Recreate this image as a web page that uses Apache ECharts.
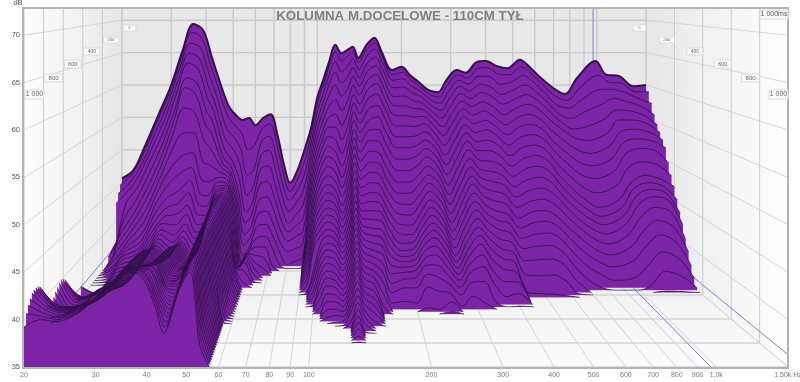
<!DOCTYPE html>
<html><head><meta charset="utf-8">
<style>html,body{margin:0;padding:0;background:#fff}#c{width:800px;height:382px}</style>
<script src="https://cdn.jsdelivr.net/npm/echarts@6/dist/echarts.min.js"></script>
</head><body><div id="c"></div>
<script>
const titleText = 'KOLUMNA M.DOCELOWE - 110CM TYŁ';
const xTicks = [20,30,40,50,60,70,80,90,100,200,300,400,500,600,700,800,900,1000,1500];
const xTickLabels = ['20','30','40','50','60','70','80','90','100','200','300','400','500','600','700','800','900','1,0k','1,50k Hz'];
const dbTicks = [35,40,45,50,55,60,65,70];
const timeTicks = [0,200,400,600,800,1000];
const timeTickLabels = ['0','200','400','600','800','1 000'];
const sliceStepMs = 20, sliceCount = 51;
const cursorHz = 970, cursorDb = 36.3;
const freqs = [20,22,24,27,30,33,36,39,42,44,48,51,54,57,60,64,68,72,76,80,85,90,95,100,105,110,116,122,128,134,140,150,160,170,185,200,215,230,250,270,290,315,340,370,400,440,480,530,580,630,700,770,850,990,1080,1200,1350,1500];
// dB per slice (index 0 = 0 ms, each next = +20 ms); a list stops where the level is below the 35 dB floor
const db20=[45.6,44.8,43.8,42.6,34,34,36.2,36,33,33,33,33,33,33,33,33,33,33,33,33,36,36.4,34,35,35.7,36.5,37.3,38.2,38.9,39.5,39.8,40,39.9,39.6,39.3,38.9,36.2,37,38.7,39.6,40.4,41.3,41.8,42,42.1,42.1,42,41.6,41.1,40.4,39.2];
const db22=[46.9,46.5,45.5,44.5,43,41,39.5,38.5,37.5,36.8,36.5,36,35.8,35.5,35.3,35.2,35.1,35,35,35,35.2,35.5,35.5,36,36,36,36.5,36.8,37,37.2,37.3,37.3,37.2,37,37,37,37.2,37.5,38,38.5,39,39.5,39.8,40,40.2,40.3,40.3,40.3,40.2,40.1,40];
const db24=[50.3,49.3,48,46.8,45.2,43.5,42,40.8,39.8,39,38.4,38,37.7,37.4,37.1,36.9,36.7,36.5,36.4,36.4,36.5,36.6,36.7,36.9,37,37.2,37.4,37.5,37.6,37.8,37.9,38,38,38,38.1,38.2,38.3,38.5,38.7,38.9,39.1,39.3,39.5,39.6,39.7,39.8,39.8,39.8,39.8,39.8,39.8];
const db27=[55.4,54.4,53,51.5,49.8,48,46.2,44.6,43,41.6,40.3,39.4,38.8,38.4,38,37.6,37.3,37,36.8,36.7,36.7,36.8,36.9,37,37.2,37.4,37.6,37.8,38,38.2,38.4,38.5,38.6,38.7,38.8,38.9,39,39.1,39.3,39.4,39.6,39.8,40,40.1,40.2,40.3,40.4,40.5,40.5,40.6,40.6];
const db30=[60,59,57.6,56,54.2,52.4,50.6,49,47.4,46,44.6,43.3,42.2,41.3,40.6,40,39.5,39.2,39,38.9,38.9,39,39.1,39.3,39.5,39.7,39.9,40.1,40.3,40.4,40.6,40.7,40.8,40.9,41,41.1,41.2,41.3,41.4,41.5,41.6,41.7,41.8,41.9,42,42,42.1,42.1,42.2,42.2,42.3];
const db33=[65.4,64.3,62.9,61.3,59.6,57.5,55.8,53.8,51.5,49.2,47.3,45.6,44.4,43.5,42.8,42.2,41.8,41.5,41.3,41.2,41.3,41.4,41.6,41.8,42,42.2,42.4,42.6,42.7,42.8,42.9,43,43,43.1,43.1,43.2,43.2,43.3,43.3,43.4,43.4,43.5,43.5,43.5,43.6,43.6,43.6,43.7,43.7,43.7,43.7];
const db36=[69.4,68.2,66.6,65.2,63.8,61.7,60.4,57.6,54.1,51,48.8,46.6,45,43.8,42.6,41.5,40.8,40.3,40,39.9,39.9,40,40.1,40.3,40.4,40.6,40.8,41,41.2,41.3,41.5,41.8,42,42.2,42.4,42.6,42.8,43,43.2,43.4,43.6,43.9,44,44.2,44.3,44.4,44.6,44.7,44.8,44.9,45];
const db39=[68.5,67.3,65.9,64.4,62.9,61,59.4,57,54.2,51.5,49.6,48,46.5,45,44,43,42.3,41.8,41.5,41.5,41.6,41.8,42,42.2,42.4,42.6,42.8,43,43.1,43.2,43.3,43.4,43.5,43.5,43.6,43.7,43.7,43.8,43.9,44,44,44.1,44.1,44.2,44.2,44.3,44.3,44.3,44.4,44.4,44.4];
const db42=[64.2,63,61.5,60,58.5,56.8,55,52.8,50,47.6,45.8,44.5,43.4,42.4,41.6,41,40.5,40,39.8,39.8,39.8,39.9,40,40.1,40.2,40.4,40.5,40.6,40.7,40.8,40.9,41,41,41,41.1,41.1,41.1,41.2,41.2,41.2,41.2,41.3,41.3,41.3,41.3,41.3,41.3,41.3,41.3,41.3,41.3];
const db44=[61.5,60.5,59.2,58,56.8,55.4,53.8,51.8,49.6,47.4,45.6,44.4,43.4,42.6,42,41.4,40.9,40.5,40.2,40.2,40.3,40.4,40.5,40.6,40.7,40.8,40.9,41,41.1,41.2,41.2,41.3,41.3,41.3,41.3,41.3,41.3,41.3,41.2,41.2,41,40.8,40.6,40.4,40.2,40,39.8,39.6,39.3,39,38.6];
const db48=[56.9,55.5,53.8,52.3,51,50,49.4,49,48.5,48,47.6,47.2,46.9,46.7,46.5,46.3,46.2,46.1,46,46,45.9,45.8,45.7,45.6,45.5,45.5,45.4,45.4,45.3,45.2,45.2,45.1,45,45,44.9,44.8,44.7,44.6,44.5,44.4,44.3,44.2,44.1,44,43.9,43.8,43.7,43.6,43.5,43.3,43.1];
const db51=[55.4,54,52.4,50.8,49.4,48.6,48.2,48,47.8,47.6,47.4,47.3,47.2,47.1,47,47,47,47,47,47,47,47,47,47,46.9,46.9,46.8,46.8,46.7,46.7,46.6,46.6,46.5,46.5,46.4,46.4,46.3,46.3,46.2,46.2,46.1,46.1,46,46,45.9,45.8,45.7,45.6,45.4,45.2,45];
const db54=[54.6,52.8,50.5,48.5,46.5,45.2,44.6,44.3,44.1,44,43.9,43.8,43.7,43.6,43.5,43.4,43.3,43.2,43.1,43,42.9,42.8,42.7,42.6,42.4,42.2,42.1,42,41.8,41.6,41.4,41.2,41,40.8,40.6,40.5,40.3,40.2,40,39.8,39.6,39.4,39.2,39,38.8,38.6,38.4,38.2,38,37.7,37.3];
const db57=[54.9,50.2,46.6,43.9,41.6,40.3,38.9,37.7,36.6,35.7,36,36,36.2,36.5,36.8,37,37.2,37.4,37.5,37.5,37.4,37.3,37.2,37,36.8,36.6,36.4,36.2,36,35.8,35.6,35.4,35.2,33.5];
const db60=[53.8,51,47.5,45,43,41.5,40,38.8,37.8,37.5,37.6,37.8,38,38,38,37.8,37,35.8,33.5];
const db64=[54.9,53.5,51.8,50,48,46,44,42.3,40.8,39.4,38.4,37.5,36.8,36.3,35.8,35.3,33.5];
const db68=[55.5,54.2,52.5,50.6,48.5,46.4,44.4,42.6,41,39.6,38.4,37.2,36,33.5];
const db72=[52.3,51,49.3,47.5,45.6,43.8,42.2,40.6,39.2,37.8,35.8,33.5];
const db76=[47.7,46.5,45,43.5,42,40.6,39.3,38,36.8,35.5,33.5];
const db80=[44.9,43.9,42.8,41.4,40,39,38,36.8,35.3,33.5];
const db85=[46.9,45.6,44.2,42.8,41.3,39.9,38.6,37.2,35.7,33.5];
const db90=[50,48.3,46.5,44.7,42.8,41,39.4,37.8,36.2,35.2,33.5];
const db95=[53.4,52.3,51,49.8,48.5,47.2,46,45,44,43,42,41.2,40.4,39.7,39,38.4,37.8,37.2,36.6,36,35.3,33.5];
const db100=[58.1,57.2,56,54.8,53.6,52.4,51.2,50.2,49.2,48.2,47.2,46.3,45.5,44.7,44,43.3,42.7,42.1,41.5,41,38.5,37.8,37.2,36.5,36,35.3,33.5];
const db105=[60.8,60,58.9,57.7,56.5,55.2,54,53,52,51,50,49,48,47.1,46.2,45.4,44.6,43.9,43.2,42.5,41.8,41.1,40.4,39.7,39,38.3,37.5,36.7,35.8,33.5];
const db110=[63.5,62.8,61.6,60.3,58.9,57.4,56,54.8,53.6,52.4,51.2,50,48.9,47.9,47,46.2,45.4,44.7,44,43.3,42.7,42,41.4,40.8,40.2,39.5,38.9,38.2,37.5,36.8,36.1,35.4,33.5];
const db116=[66.2,65.2,63.8,62.3,60.5,58.5,56.5,54.8,53.2,51.7,50.4,49.2,48.2,47.2,46.4,45.6,44.9,44.2,43.5,42.8,42.2,41.6,41,40.4,39.8,39.2,38.6,38,37.4,36.8,36.2,35.7,35.2,33.5];
const db122=[64.9,63.8,62.3,60.7,58.9,56.9,54.9,53,51.2,49.6,48.2,47,46,45,44.2,43.5,42.8,42.2,41.6,41,40.5,40,39.5,39,38.5,38,37.5,37,36.6,36.2,35.9,35.6,35.3,35.1,33.5];
const db128=[65.4,64.5,63.1,61.6,60,58.4,56.8,55.2,53.7,52.3,51,49.8,48.7,47.7,46.8,46,45.2,44.5,43.8,43.2,42.6,42,41.5,41,40.5,40,39.5,39,38.6,38.2,37.8,37.4,37,36.6,35.8,33.5];
const db134=[65.9,65.2,64.2,63,61.8,60.6,59.4,58.3,57.2,56.1,55,54,53,52,51.1,50.2,49.3,48.5,47.7,47,46.3,45.6,45,44.4,43.8,43.2,42.6,42,41.5,41,40.4,39.8,39.2,38.6,38,37.5,37,36.5,36,35.5,35.1,33.5];
const db140=[64.2,63.6,62.6,61.5,60.4,59.2,58,56.8,55.6,54.4,53.2,52,50.9,49.8,48.8,47.9,47,46.2,45.5,44.8,44.1,43.5,42.9,42.3,41.7,41.1,40.5,40,39.4,38.8,38.3,37.8,37.3,36.8,36.3,35.8,35.2,33.5];
const db150=[66.2,65.6,64.7,63.7,62.6,61.4,60.2,59,57.6,56.2,54.9,53.6,52.3,51,49.8,48.6,47.5,46.5,45.5,44.6,43.7,43,42.3,41.6,41,40.4,39.8,39.2,38.6,38,37.4,36.8,36.2,35.5,33.5];
const db160=[67.3,66.6,65.7,64.6,63.4,62.2,61,59.6,58.1,56.6,55,53.5,52.1,50.8,49.5,48.3,47.2,46.2,45.3,44.4,43.5,42.7,41.9,41.1,40.2,39.3,38.3,37.1,35.8,33.5];
const db170=[65.1,64.5,63.6,62.6,61.5,60.3,59,57.6,56.2,54.6,53,51.5,50,48.6,47.3,46.1,45,44,43.1,42.2,41.3,40.4,39.5,38.6,37.7,36.8,35.8,33.5];
const db185=[62.3,61.7,61,60,58.8,57.6,56.3,55,53.6,52.2,50.8,49.4,48,46.7,45.5,44.3,43.2,42.2,41.2,40.5,40,39.6,39.2,38.8,38.2,37.4,36,33.5];
const db200=[62.8,62.1,61.2,60.1,58.9,57.6,56.3,55,53.6,52.2,50.8,49.4,48,46.7,45.4,44.2,43.1,42.1,41.3,40.7,40.2,39.8,39.4,39,38.4,37.4,35.8,33.5];
const db215=[61.5,60.9,60.1,59.2,58.2,57.2,56.1,54.9,53.7,52.5,51.3,50.1,49,47.9,46.8,45.8,44.9,44.1,43.4,42.8,42.3,41.8,41.3,40.7,40,39.1,37.8,35.5,33.5];
const db230=[60.5,60,59.4,58.7,57.9,57.1,56.2,55.3,54.3,53.3,52.3,51.3,50.2,49.2,48.3,47.4,46.5,45.7,44.9,44.1,43.4,42.7,41.9,41,40,38.8,37.3,35.3,33.5];
const db250=[59.2,58.7,58.1,57.4,56.6,55.8,54.9,54,53,52,51,50,49,48,47,46,45.1,44.2,43.4,42.6,41.8,41,40.2,39.4,38.6,37.8,37,36.2,35.3,33.5];
const db270=[58.9,58.3,57.5,56.6,55.6,54.5,53.4,52.2,51,49.8,48.6,47.4,46.3,45.2,44.2,43.2,42.3,41.4,40.6,39.9,39.3,38.8,38.3,37.8,37.2,36.5,35.4,33.5];
const db290=[60.8,60.1,59.3,58.4,57.4,56.4,55.3,54.2,53.1,52,50.9,49.8,48.7,47.7,46.7,45.8,44.9,44.1,43.3,42.5,41.8,41.1,40.5,39.8,39.1,38.1,36.6,33.5];
const db315=[62.3,61.7,61,60.2,59.3,58.3,57.3,56.3,55.3,54.3,53.3,52.3,51.3,50.3,49.3,48.4,47.4,46.5,45.6,44.7,43.8,43,42.1,41,39.8,38.2,35.8,33.5];
const db340=[61.9,61.2,60.4,59.5,58.5,57.5,56.4,55.3,54.2,53.1,52,50.9,49.8,48.8,47.8,46.8,45.9,45,44.1,43.2,42.3,41.3,40.2,39,37.6,35.7,33.5];
const db370=[63.5,62.6,61.6,60.5,59.4,58.2,57,55.8,54.6,53.3,52,50.7,49.5,48.3,47.2,46.1,45,44,43,42,41,40,38.9,37.6,36,33.5];
const db400=[63.7,62.8,61.6,60.2,58.9,57.5,56.2,55,53.8,52.6,51.4,50.2,49,47.9,46.8,45.7,44.6,43.6,42.6,41.6,40.6,39.6,38.6,37.6,36.4,35.1,33.5];
const db440=[62.9,61.8,60.4,59,57.7,56.3,55,53.7,52.4,51.1,49.8,48.6,47.4,46.2,45,43.8,42.7,41.6,40.5,39.2,37.6,35.6,33.5];
const db480=[62.6,61.7,60.7,59.6,58.4,57.2,56,54.8,53.5,52.2,50.9,49.6,48.3,47,45.8,44.6,43.4,42.1,40.8,39.3,37.5,35.5,33.5];
const db530=[63.9,62.9,61.7,60.4,59.1,57.8,56.5,55.2,53.9,52.6,51.3,50,48.7,47.4,46.1,44.8,43.6,42.3,40.9,39.4,37.6,35.4,33.5];
const db580=[62.6,61.7,60.6,59.4,58.2,57,55.7,54.4,53.1,51.8,50.5,49.2,47.9,46.6,45.3,44,42.8,41.5,40.1,38.6,36.8,35.2,33.5];
const db630=[61.1,60.2,59.1,58,56.8,55.5,54.1,52.7,51.3,49.9,48.5,47.3,46.1,45,43.8,42.5,41.2,39.8,38.2,36.6,35.2,33.5];
const db700=[59.5,58.4,57.2,56,55,54,52.5,51,49.5,48,46.5,45.3,44.2,43.1,42,40.8,39.4,37.9,36.3,33.5];
const db770=[58.6,57.8,56.8,55.4,54,52.8,51.3,49.7,48.1,46.5,45,43.9,42.9,41.8,40.7,39.5,38.2,36.8,35.3,33.5];
const db850=[61.1,59.6,58,56.3,54.3,52.5,50.8,49.2,47.6,45.8,44,43,42.1,41.1,40,38.8,37.5,36,33.5];
const db990=[63.7,61.6,59.6,57.6,55.5,53.6,51.9,50.3,48.7,46.9,45.1,44.2,43.4,42.5,41.3,39.9,38.3,36.4,33.5];
const db1080=[61.6,60.6,59.6,58.4,56.8,55.5,54,52.6,51.2,49.4,47.5,46.8,46,45.1,43.7,42,40.2,38,35.6,33.5];
const db1200=[61.4,60.4,59.2,57.9,56.7,55.5,54.3,53.1,51.9,50.2,48.5,47.7,47,46.2,45,43.5,41.8,39.8,37.5,35.2,33.5];
const db1350=[59.8,59.1,58.2,57.2,56,55,53.9,52.8,51.6,49.8,48,47.2,46.5,45.7,44.3,42.5,40.7,38.8,36.8,35.1,33.5];
const db1500=[60,59.1,57.5,55.9,54.6,53.6,52.7,51.8,49.8,48.2,46.9,45.3,43.7,42.3,40.5,39.2,37.6,36.3,35.3,33.5];

const columns=[db20,db22,db24,db27,db30,db33,db36,db39,db42,db44,db48,db51,db54,db57,db60,db64,db68,db72,db76,db80,db85,db90,db95,db100,db105,db110,db116,db122,db128,db134,db140,db150,db160,db170,db185,db200,db215,db230,db250,db270,db290,db315,db340,db370,db400,db440,db480,db530,db580,db630,db700,db770,db850,db990,db1080,db1200,db1350,db1500];

const dbMin = 35, dbMax = 73, hzMin = 20, hzMax = 1500, msMax = 1000;
const purple = '#7b25a6', contour = '#33124a';
const plot = {top: 9, back: {l: 122, r: 646, floor: 247, pxDb: 6.48}, front: {l: 24, r: 788, floor: 367, pxDb: 9.48}};
const mix = (a, b, t) => a + (b - a) * t / msMax;
const pl = t => mix(plot.back.l, plot.front.l, t);
const pr = t => mix(plot.back.r, plot.front.r, t);
const pf = t => mix(plot.back.floor, plot.front.floor, t);
const ps = t => mix(plot.back.pxDb, plot.front.pxDb, t);
const hzPos = (f, t) => pl(t) + (pr(t) - pl(t)) * Math.log10(f / hzMin) / Math.log10(hzMax / hzMin);
const dbPos = (d, t) => pf(t) - (d - dbMin) * ps(t);

const grids = [], xAxes = [], yAxes = [], series = [];
function addPlane(t) {
  const h = (dbMax - dbMin) * ps(t);
  grids.push({left: pl(t), width: pr(t) - pl(t), top: pf(t) - h, height: h});
  const i = grids.length - 1;
  xAxes.push({gridIndex: i, type: 'log', min: hzMin, max: hzMax, show: false});
  yAxes.push({gridIndex: i, type: 'value', min: dbMin, max: dbMax, show: false});
  return i;
}
// A slice is only drawn where it stands above the floor: the point next to a visible one lands on the floor, the rest stay empty.
function sliceData(s) {
  const level = columns.map(col => col[s]);
  const above = c => level[c] !== undefined && level[c] > dbMin;
  return freqs.map((f, c) => {
    if (above(c)) return [f, level[c]];
    if ((c > 0 && above(c - 1)) || (c < freqs.length - 1 && above(c + 1))) return [f, dbMin];
    return [f, null];
  });
}
for (let s = 0; s < sliceCount; s++) {
  const t = s * sliceStepMs, i = addPlane(t);
  series.push({
    type: 'line', xAxisIndex: i, yAxisIndex: i, silent: true, animation: false, symbol: 'none',
    smooth: 0.35, clip: true, z: 3, connectNulls: false,
    lineStyle: {color: contour, width: s === 0 ? 2 : 0.85},
    areaStyle: {color: purple, opacity: 1, origin: 'start'},
    data: sliceData(s)
  });
}
// axes labels sit on the front plane
const fi = addPlane(msMax);
yAxes[fi] = {gridIndex: fi, type: 'value', min: dbMin, max: dbMax, interval: 5, show: true, splitLine: {show: false},
  axisLine: {show: false}, axisTick: {show: false},
  axisLabel: {color: '#555', fontSize: 7.5, margin: 4, fontFamily: 'Liberation Sans', showMaxLabel: false}};
series.push({type: 'scatter', xAxisIndex: fi, yAxisIndex: fi, silent: true, animation: false, symbolSize: 0, clip: false, z: 6,
  data: xTicks.map((f, k) => ({value: [f, dbMin], label: {show: true, position: 'bottom', distance: 5, formatter: xTickLabels[k],
    color: '#555', fontSize: 7, fontFamily: 'Liberation Sans'}}))});

const g = [];
const poly = (pts, fill) => g.push({type: 'polygon', silent: true, z: 0, shape: {points: pts}, style: {fill}});
const seg = (x1, y1, x2, y2, c, w) => g.push({type: 'line', silent: true, z: 1, shape: {x1, y1, x2, y2}, style: {stroke: c, lineWidth: w || 1}});
const LG = (x, y, x2, y2, a, b) => new echarts.graphic.LinearGradient(x, y, x2, y2, [{offset: 0, color: a}, {offset: 1, color: b}]);
const T = plot.top;
poly([[plot.front.l, T], [plot.back.l, T], [plot.back.l, plot.back.floor], [plot.front.l, plot.front.floor]], LG(0, 0, 1, 0, '#ffffff', '#e6e6e6'));
poly([[plot.back.r, T], [plot.front.r, T], [plot.front.r, plot.front.floor], [plot.back.r, plot.back.floor]], LG(0, 0, 1, 0, '#e6e6e6', '#ffffff'));
poly([[plot.back.l, T], [plot.back.r, T], [plot.back.r, plot.back.floor], [plot.back.l, plot.back.floor]], '#e8e8e8');
poly([[plot.back.l, plot.back.floor], [plot.back.r, plot.back.floor], [plot.front.r, plot.front.floor], [plot.front.l, plot.front.floor]], LG(0, 0, 0, 1, '#ececec', '#fcfcfc'));
const gridC = '#cacaca';
xTicks.forEach(f => {
  seg(hzPos(f, 0), T, hzPos(f, 0), pf(0), gridC, 1.4);
  seg(hzPos(f, 0), pf(0), hzPos(f, msMax), pf(msMax), '#d4d4d4', 1);
});
dbTicks.forEach(d => {
  seg(pl(0), dbPos(d, 0), pr(0), dbPos(d, 0), gridC, 1.4);
  seg(pl(0), dbPos(d, 0), pl(msMax), dbPos(d, msMax), '#d6d6d6', 1);
  seg(pr(0), dbPos(d, 0), pr(msMax), dbPos(d, msMax), '#d6d6d6', 1);
});
timeTicks.forEach(t => {
  seg(pl(t), T, pl(t), pf(t), gridC, 1);
  seg(pr(t), T, pr(t), pf(t), gridC, 1);
  seg(pl(t), pf(t), pr(t), pf(t), '#d4d4d4', 1.4);
});
// cursor
const blue = '#7486c6';
seg(hzPos(cursorHz, 0), T, hzPos(cursorHz, 0), pf(0), blue, 1);
seg(hzPos(cursorHz, 0), pf(0), hzPos(cursorHz, msMax), pf(msMax), blue, 1);
seg(pl(0), dbPos(cursorDb, 0), pl(msMax), dbPos(cursorDb, msMax), blue, 1);
seg(pr(0), dbPos(cursorDb, 0), pr(msMax), dbPos(cursorDb, msMax), blue, 1);
// frame
g.push({type: 'rect', silent: true, z: 2, shape: {x: plot.front.l - 1, y: T - 1, width: plot.front.r - plot.front.l + 1, height: plot.front.floor - T + 2},
  style: {fill: 'none', stroke: '#b4b4b4', lineWidth: 2}});
// time boxes
const boxW = [13, 15, 16, 17, 18, 19], boxH = [6, 6, 7, 8, 8, 9], boxY = [25, 37, 48, 60, 74, 90], boxF = [3.6, 4.4, 5, 5.6, 6, 7];
const tag = (x, y, w, h, txt, fs, c) => {
  g.push({type: 'rect', silent: true, z: 2, shape: {x, y, width: w, height: h}, style: {fill: '#fbfbfb', stroke: '#dadada', lineWidth: 1}});
  g.push({type: 'text', silent: true, z: 2, x: x + w / 2, y: y + h / 2, style: {text: txt, fontSize: fs, fontFamily: 'Liberation Sans', fill: c, align: 'center', verticalAlign: 'middle'}});
};
timeTicks.forEach((t, k) => {
  tag(pl(t) + 1, boxY[k], boxW[k], boxH[k], timeTickLabels[k], boxF[k], '#666');
  tag(pr(t) - boxW[k], boxY[k], boxW[k], boxH[k], timeTickLabels[k], boxF[k], '#666');
});
tag(760, 10, 28, 9, '1 000ms', 7, '#555');
g.push({type: 'text', silent: true, z: 2, x: 18, y: 3, style: {text: 'dB', fontSize: 7.5, fontFamily: 'Liberation Sans', fill: '#555', align: 'center', verticalAlign: 'middle'}});

const chart = echarts.init(document.getElementById('c'), null, {renderer: 'canvas'});
chart.setOption({
  animation: false, backgroundColor: '#ffffff',
  title: {text: titleText, left: 'center', top: 10, padding: 0, z: 8,
    textStyle: {color: '#808080', fontSize: 13.3, fontWeight: 'bold', fontFamily: 'Liberation Sans'}},
  grid: grids, xAxis: xAxes, yAxis: yAxes, series, graphic: {elements: g}
});
</script></body></html>
